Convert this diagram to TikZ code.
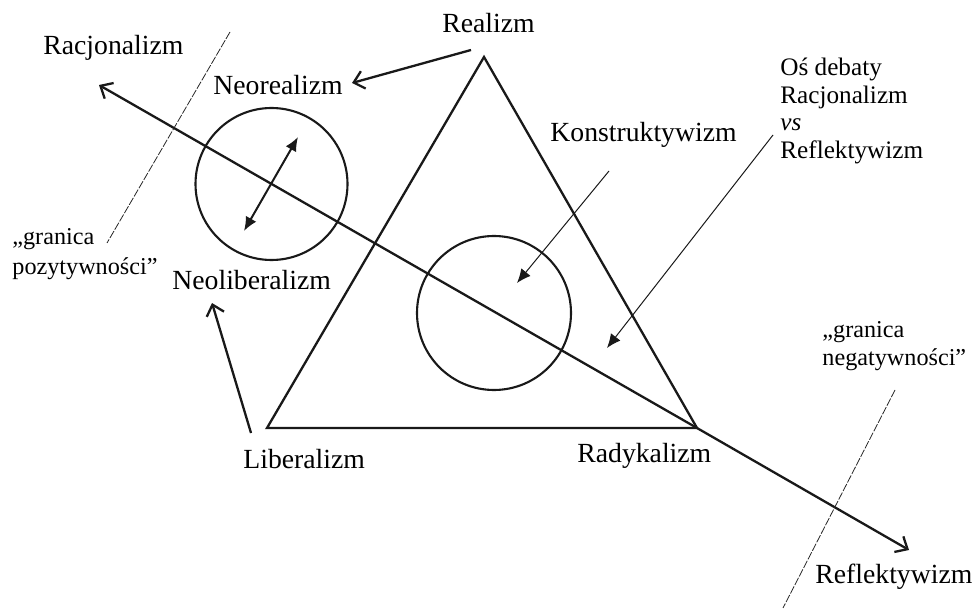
\documentclass[tikz,border=0pt]{standalone}
\usepackage{fontspec}
\setmainfont{Liberation Serif}
\usetikzlibrary{arrows.meta}
\begin{document}
\begin{tikzpicture}[x=0.5pt,y=-0.5pt,
  lbl/.style={inner sep=0pt,anchor=base west,font=\fontsize{13.85}{16}\selectfont},
  lblsmall/.style={inner sep=0pt,anchor=base west,font=\fontsize{12.6}{14}\selectfont},
  lblgr/.style={inner sep=0pt,anchor=base west,font=\fontsize{12.1}{14}\selectfont},
  heavy/.style={line width=1.15pt,draw=black!90},
  thinarrow/.style={line width=0.5pt,draw=black!90,-{Latex[length=7pt,width=6pt]}},
  openarrow/.style={heavy,-{Straight Barb[length=5pt,width=9pt,line width=1.15pt]}},
  boundary/.style={line width=0.4pt,draw=black!85,dash pattern=on 4pt off 0.8pt},
  ring/.style={circle,draw=black!90,line width=1.05pt,inner sep=0pt}]
\useasboundingbox (0,0) rectangle (974,609);

% texts
\node[lbl] (racj) at (43,55) {Racjonalizm};
\node[lbl] (real) at (442,33) {Realizm};
\node[lbl] (neor) at (213,95) {Neorealizm};
\node[lbl] (neol) at (172,290) {Neoliberalizm};
\node[lbl] (lib) at (243,468) {Liberalizm};
\node[lbl] (rad) at (577,462) {Radykalizm};
\node[lbl] (refl) at (815,583) {Reflektywizm};
\node[lbl] (konst) at (550,142) {Konstruktywizm};
\node[lblsmall] (os1) at (780,76) {Oś debaty};
\node[lblsmall] (os2) at (780,103.5) {Racjonalizm};
\node[lblsmall] (os3) at (780,131) {\itshape vs};
\node[lblsmall] (os4) at (780,159) {Reflektywizm};
\node[lblgr] (gp1) at (12,245) {„granica};
\node[lblgr] (gp2) at (12,275) {pozytywności”};
\node[lblgr] (gn1) at (822,337) {„granica};
\node[lblgr] (gn2) at (822,365) {negatywności”};

% triangle
\coordinate (A) at (484,57);
\coordinate (B) at (267,428);
\coordinate (C) at (697,428);
\draw[heavy,line join=miter] (A) -- (B) -- (C) -- cycle;

% circles
\node[ring,minimum size=76pt] (c1) at (271.5,184) {};
\node[ring,minimum size=77pt] (c2) at (494,313) {};

% main axis
\coordinate (axL) at (99,85);
\coordinate (axR) at (909,550);
\draw[openarrow] (C) -- (axL);
\draw[openarrow] (C) -- (axR);

% boundaries
\coordinate (bl1) at (230,32);
\coordinate (bl2) at (107,243);
\coordinate (br1) at (895,390);
\coordinate (br2) at (783,608);
\draw[boundary] (bl1) -- (bl2);
\draw[boundary] (br1) -- (br2);

% double arrow in circle 1
\coordinate (d1) at (298,137);
\coordinate (d2) at (244,231);
\draw[line width=1pt,draw=black!90,{Latex[length=7pt,width=6pt]}-{Latex[length=7pt,width=6pt]}] (d2) -- (d1);

% arrows from labels
\coordinate (realS) at (471,50);
\coordinate (neorE) at (352,83);
\draw[openarrow] (realS) -- (neorE);
\coordinate (libN) at (251,433);
\coordinate (neolS) at (212,303);
\draw[openarrow] (libN) -- (neolS);
\coordinate (konS) at (609,171);
\coordinate (konT) at (517,283);
\draw[thinarrow] (konS) -- (konT);
\coordinate (osS) at (773,135);
\coordinate (osT) at (607,348);
\draw[thinarrow] (osS) -- (osT);
\end{tikzpicture}
\end{document}
